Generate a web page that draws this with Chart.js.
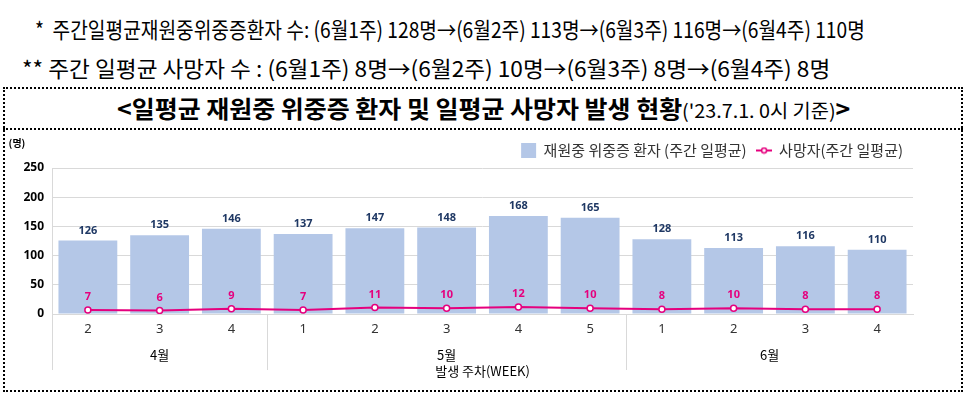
<!DOCTYPE html>
<html>
<head>
<meta charset="utf-8">
<script src="https://cdn.jsdelivr.net/npm/chart.js@4.4.0/dist/chart.umd.min.js"></script>
<style>
  body { margin: 0; background: #fff; width: 967px; height: 395px; overflow: hidden; position: relative;
         font-family: "Noto Sans CJK KR", sans-serif; }
  .note { position: absolute; white-space: nowrap; transform-origin: 0 50%; color: #000; font-size: 22px; line-height: 26px; }
  #title { position: absolute; white-space: nowrap; transform-origin: 0 50%; color: #000; font-size: 24px; line-height: 28px; font-weight: bold; top: 94px; }
  #title span { font-weight: normal; font-size: 19px; }
  #box { position: absolute; left: 3px; top: 87px; width: 956px; height: 301px; border: 2px dotted #000; }
  #sep { position: absolute; left: 3px; top: 128px; width: 960px; border-top: 2px dotted #000; }
  #wrap { position: absolute; left: 0; top: 130px; width: 967px; height: 260px; }
</style>
</head>
<body>
<div class="note" id="l1" style="top:15px">*&nbsp; 주간일평균재원중위중증환자 수: (6월1주) 128명→(6월2주) 113명→(6월3주) 116명→(6월4주) 110명</div>
<div class="note" id="l2" style="top:54px">** 주간 일평균 사망자 수 : (6월1주) 8명→(6월2주) 10명→(6월3주) 8명→(6월4주) 8명</div>
<div id="box"></div>
<div id="sep"></div>
<div id="title">&lt;일평균 재원중 위중증 환자 및 일평균 사망자 발생 현황<span>('23.7.1. 0시 기준)</span>&gt;</div>
<div id="wrap"><canvas id="grafico" width="967" height="260"></canvas></div>

<script>
const semanas = ['2', '3', '4', '1', '2', '3', '4', '5', '1', '2', '3', '4'];
const meses = ['4월', '5월', '6월'];
const semanasPorMes = [3, 5, 4];
const pacientes = [126, 135, 146, 137, 147, 148, 168, 165, 128, 113, 116, 110];
const mortes = [7, 6, 9, 7, 11, 10, 12, 10, 8, 10, 8, 8];

const AZUL = '#b4c7e7';
const ROSA = '#e5007e';
const GRADE = '#d9d9d9';

function ajustarLargura(id, x0, x1) {
  const el = document.getElementById(id);
  el.style.left = x0 + 'px';
  const w = el.offsetWidth;
  el.style.transform = 'scaleX(' + ((x1 - x0) / w) + ')';
}
ajustarLargura('l1', 35, 865);
ajustarLargura('l2', 22, 830);
ajustarLargura('title', 117, 850);

// legend marker for the line series: short line with a hollow dot
const marcador = document.createElement('canvas');
marcador.width = 16; marcador.height = 8;
(function () {
  const c = marcador.getContext('2d');
  c.strokeStyle = ROSA; c.lineWidth = 2;
  c.beginPath(); c.moveTo(0, 4); c.lineTo(16, 4); c.stroke();
  c.fillStyle = '#fff'; c.lineWidth = 1.5;
  c.beginPath(); c.arc(8, 4, 2.5, 0, Math.PI * 2); c.fill(); c.stroke();
})();

const rotulos = {
  id: 'rotulos',
  afterDatasetsDraw(chart) {
    const ctx = chart.ctx;
    ctx.save();
    ctx.textAlign = 'center';
    ctx.textBaseline = 'middle';
    ctx.font = 'bold 11px "Noto Sans", sans-serif';
    chart.getDatasetMeta(0).data.forEach((el, i) => {
      ctx.fillStyle = '#1f3864';
      ctx.fillText(pacientes[i], el.x, el.y - 10);
    });
    chart.getDatasetMeta(1).data.forEach((el, i) => {
      ctx.fillStyle = ROSA;
      ctx.fillText(mortes[i], el.x, el.y - 13);
    });
    ctx.restore();
  },
  afterDraw(chart) {
    const ctx = chart.ctx;
    const x = chart.scales.x;
    const area = chart.chartArea;
    ctx.save();
    ctx.textAlign = 'center';
    ctx.textBaseline = 'middle';
    ctx.fillStyle = '#000';
    ctx.font = '13px "Noto Sans CJK KR", sans-serif';
    let inicio = 0;
    meses.forEach((m, k) => {
      const fim = inicio + semanasPorMes[k] - 1;
      const cx = (x.getPixelForValue(inicio) + x.getPixelForValue(fim)) / 2;
      ctx.fillText(m, cx, area.bottom + 41);
      inicio = fim + 1;
    });
    ctx.font = 'bold 10px "Noto Sans CJK KR", sans-serif';
    ctx.fillText('(명)', 17, 13);
    ctx.restore();
  }
};

new Chart(document.getElementById('grafico'), {
  type: 'bar',
  data: {
    labels: semanas,
    datasets: [
      {
        type: 'bar',
        label: '재원중 위중증 환자 (주간 일평균)',
        data: pacientes,
        backgroundColor: AZUL,
        categoryPercentage: 1,
        barPercentage: 0.82,
        order: 2
      },
      {
        type: 'line',
        label: '사망자(주간 일평균)',
        data: mortes,
        borderColor: ROSA,
        borderWidth: 2,
        pointRadius: 3,
        pointBorderWidth: 1.5,
        pointBackgroundColor: '#fff',
        pointBorderColor: ROSA,
        order: 1
      }
    ]
  },
  options: {
    responsive: false,
    animation: false,
    devicePixelRatio: 1,
    layout: { padding: { left: 0, right: 54, top: 3, bottom: 0 } },
    plugins: {
      tooltip: { enabled: false },
      legend: {
        position: 'top',
        align: 'end',
        labels: {
          usePointStyle: true,
          padding: 10,
          color: '#333',
          font: { size: 15, family: '"Noto Sans CJK KR", sans-serif' },
          generateLabels(chart) {
            const itens = Chart.defaults.plugins.legend.labels.generateLabels(chart);
            itens.sort((a, b) => a.datasetIndex - b.datasetIndex);
            itens.forEach(it => {
              if (it.datasetIndex === 0) {
                it.pointStyle = 'rect';
                it.fillStyle = AZUL;
                it.strokeStyle = AZUL;
              } else {
                it.pointStyle = marcador;
              }
            });
            return itens;
          }
        }
      }
    },
    scales: {
      y: {
        min: 0,
        max: 250,
        ticks: { stepSize: 50, color: '#000', padding: 8, font: { size: 12, weight: 'bold', family: '"Noto Sans", sans-serif' } },
        grid: { color: GRADE, drawTicks: false },
        border: { display: false },
        afterFit(s) { s.width = 52; }
      },
      x: {
        grid: {
          offset: true,
          tickLength: 56,
          color: c => (c.index === 0 || c.index === semanas.length) ? GRADE : 'transparent',
          tickColor: c => [0, 3, 8, 12].includes(c.index) ? GRADE : 'transparent'
        },
        border: { color: GRADE },
        ticks: { color: '#333', padding: -49, font: { size: 13, family: '"Noto Sans", sans-serif' } },
        title: {
          display: true,
          text: '발생 주차(WEEK)',
          color: '#000',
          font: { size: 13, family: '"Noto Sans CJK KR", sans-serif' },
          padding: { top: 0, bottom: 11 }
        },
        afterFit(s) { s.height = 76; }
      }
    }
  },
  plugins: [rotulos]
});
</script>
</body>
</html>
